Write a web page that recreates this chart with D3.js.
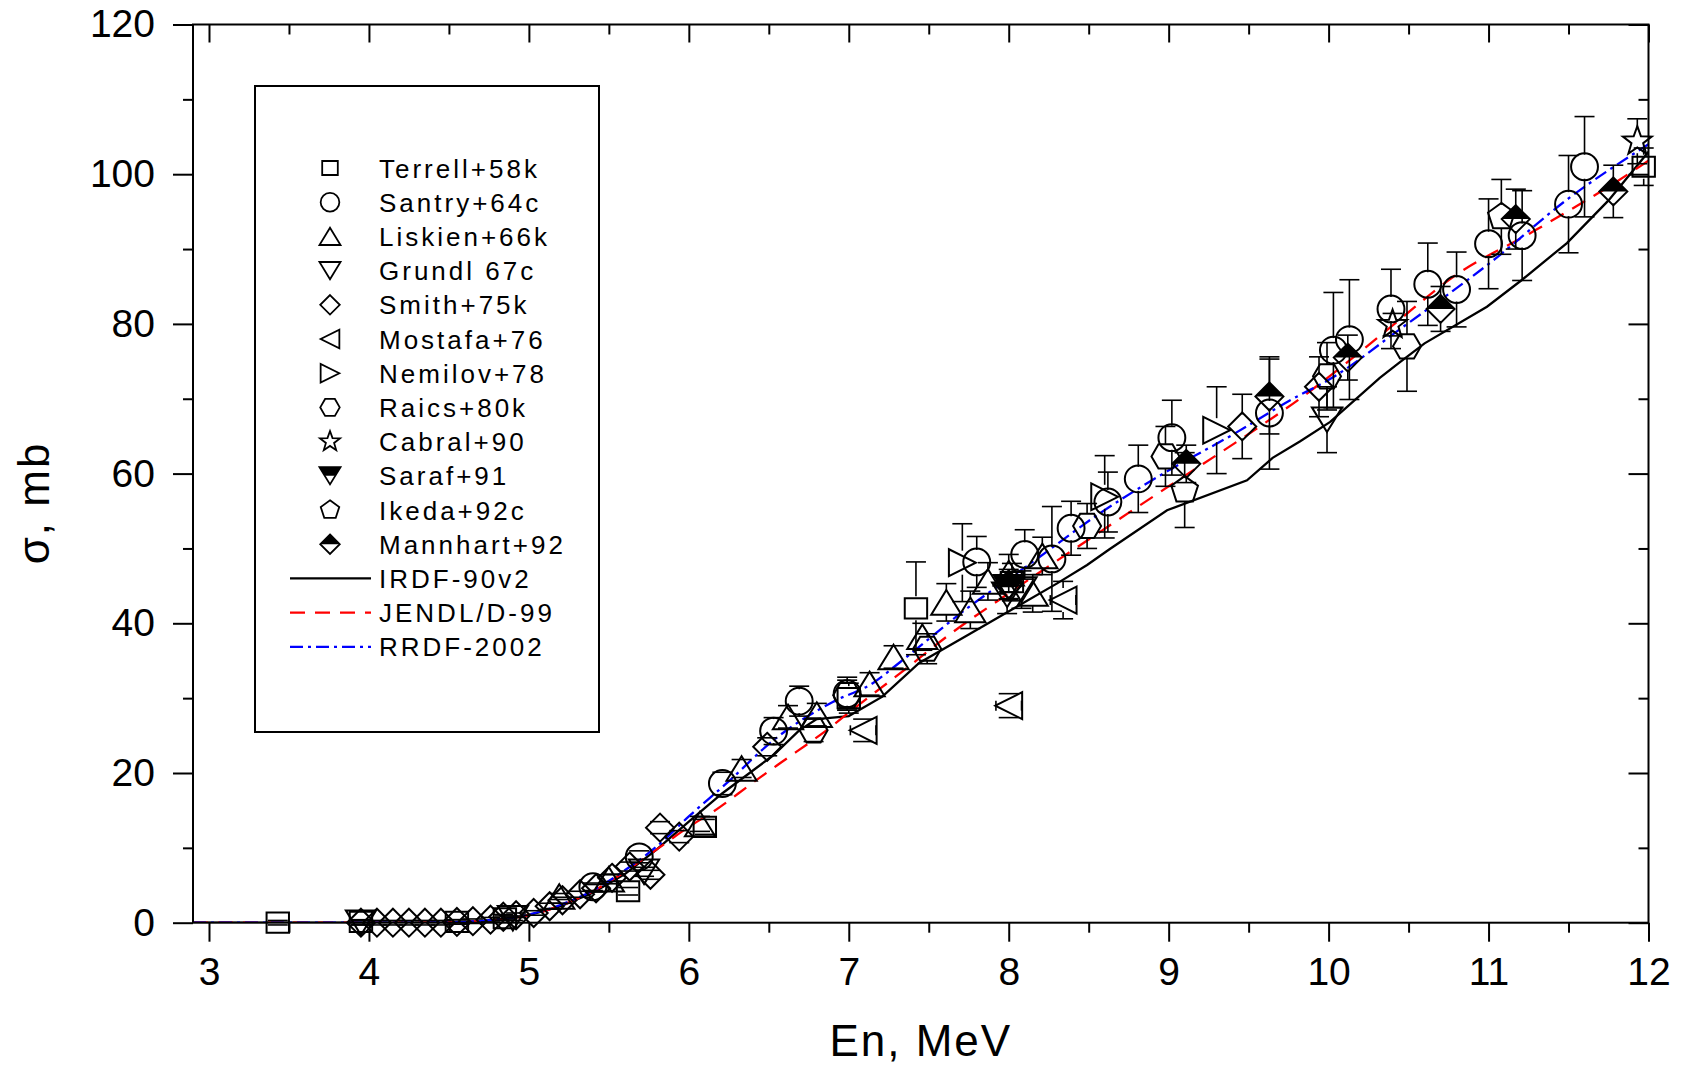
<!DOCTYPE html>
<html>
<head>
<meta charset="utf-8">
<script src="https://cdn.jsdelivr.net/npm/d3@7"></script>
<style>
  body { margin: 0; background: #fff; }
  text { font-family: "Liberation Sans", Arial, sans-serif; fill: #000; }
</style>
</head>
<body>
<div id="chart"></div>
<script>
// data: [En (MeV), sigma (mb), error (mb)]
const terrell = [[3.43,0,0.3],[3.95,0.1,0.3],[4.55,0.1,0.3],[4.85,0.6,0.3],[5.62,4.2,0.5],[6.1,12.8,1],[7.0,30.0,2],[7.42,42.0,6.2],[8.02,45.5,2.5],[11.97,101,2.5]];
const santry = [[5.4,4.8,0.5],[5.69,8.8,0.8],[6.21,18.6,1.5],[6.53,25.6,1.8],[6.69,29.6,2.0],[6.99,30.6,2.2],[7.8,48.2,3.4],[8.1,49.2,3.3],[8.27,48.6,7],[8.39,52.7,3.6],[8.62,56.2,4],[8.81,59.3,4.5],[9.02,64.8,5],[9.63,68.1,7.5],[10.03,76.5,7.7],[10.13,77.9,8],[10.39,82.0,5.3],[10.62,85.3,5.5],[10.8,84.6,5],[11.0,90.7,6],[11.21,91.8,6],[11.5,96.0,6.5],[11.6,101.0,6.7]];
const liskien = [[5.19,3.5,0.4],[5.5,5.8,0.6],[6.07,13.2,1],[6.33,20.6,1.2],[6.62,27.5,1.5],[6.8,27.8,1.5],[7.13,31.9,1.5],[7.28,35.5,1.5],[7.46,38.2,1.8],[7.61,42.8,2.5],[7.76,41.8,2.5],[7.87,45.6,2.5],[8.0,46.7,2.5],[8.15,44.0,2.5],[8.21,49.0,2.5]];
const grundl = [[3.95,0,0.3],[4.9,0.6,0.3],[5.72,6.8,0.6],[7.99,43.8,2.5],[8.08,44.5,2.5],[9.99,67.2,4.4]];
const smith = [[3.95,0,0.3],[4.05,0,0.3],[4.15,0,0.3],[4.25,0,0.3],[4.35,0,0.3],[4.45,0,0.3],[4.55,0.1,0.3],[4.65,0.2,0.3],[4.76,0.4,0.3],[4.84,0.8,0.3],[4.92,1.0,0.3],[5.03,1.3,0.3],[5.13,2.2,0.4],[5.21,3.0,0.4],[5.32,3.8,0.4],[5.42,4.6,0.5],[5.52,6.0,0.5],[5.63,7.5,0.6],[5.76,6.4,0.6],[5.82,12.7,0.8],[5.94,11.5,0.8],[6.49,23.5,1.2],[9.46,66.3,4.3],[9.94,71.6,4]];
const mostafa = [[7.09,25.7,1.5],[8.0,29.0,1.6],[8.34,43.1,2.5]];
const nemilov = [[7.71,48.1,5.2],[8.6,56.9,5.5],[9.3,65.8,5.8]];
const raics = [[6.78,25.7,1.5],[6.99,30.4,2],[7.49,36.6,2],[8.49,53.0,3],[8.98,62.3,4],[9.99,73.0,4.5],[10.49,77.0,6]];
const cabral = [[10.4,79.9,1.5],[11.93,104.4,3]];
const saraf = [[8.0,44.8,1.5]];
const ikeda = [[9.1,57.8,5],[11.08,94.3,5]];
const mannhart = [[8.0,45.2,2],[9.11,61.3,2.5],[9.63,70.3,5],[10.12,75.5,3],[10.7,82.0,3],[11.17,94.0,4],[11.78,97.7,3.5]];
const mostafaXerr = 0.08;

// evaluated curves: [En, sigma]
const irdf = [[2.9,0],[4.0,0],[4.5,0.05],[4.7,0.2],[4.9,0.6],[5.0,1.0],[5.2,2.2],[5.4,4.0],[5.6,6.5],[5.8,9.8],[6.0,13.5],[6.21,17.3],[6.53,22.4],[6.69,25.7],[6.8,27.2],[6.9,27.4],[7.0,27.6],[7.21,30.2],[7.44,34.7],[7.75,38.5],[8.05,42.2],[8.3,45.3],[8.49,47.8],[8.63,49.9],[8.99,55.1],[9.49,59.1],[9.65,62.1],[9.82,64.3],[10.01,66.9],[10.32,72.8],[10.44,74.8],[10.6,77.4],[10.99,82.3],[11.21,85.9],[11.49,90.8],[11.75,96.5],[12,103]];
const jendl = [[2.9,0],[4.0,0],[4.5,0.05],[4.7,0.2],[4.9,0.6],[5.0,1.0],[5.2,2.3],[5.4,4.2],[5.6,6.8],[5.8,9.8],[6.0,12.8],[6.15,14.8],[6.4,18.7],[6.57,21.3],[6.86,25.7],[7.05,28.9],[7.32,33.3],[7.63,38.5],[8.0,44.0],[8.5,51.2],[9.0,58.3],[9.5,65.3],[9.82,70.0],[10.24,77.0],[10.44,80.5],[10.76,86],[11.3,92.6],[11.8,99.0],[12,101.8]];
const rrdf = [[2.9,0],[4.0,0],[4.5,0.05],[4.7,0.25],[4.9,0.7],[5.0,1.1],[5.2,2.4],[5.4,4.3],[5.6,7.0],[5.8,10.2],[6.0,14.2],[6.24,18.7],[6.53,24.4],[6.9,29.5],[7.15,32],[7.32,34.8],[7.74,42],[8.15,48.2],[8.57,54.7],[8.99,60.3],[9.4,65.2],[9.76,69.8],[10.03,72.9],[10.44,79.2],[11.03,88.5],[11.49,96.6],[12,104]];

const xTicks = [3,4,5,6,7,8,9,10,11,12];
const yTicks = [0,20,40,60,80,100,120];

const series = [
  {name: "Terrell+58k", shape: "square", data: terrell},
  {name: "Santry+64c", shape: "circle", data: santry},
  {name: "Liskien+66k", shape: "up", data: liskien},
  {name: "Grundl 67c", shape: "down", data: grundl},
  {name: "Smith+75k", shape: "diamond", data: smith},
  {name: "Mostafa+76", shape: "left", data: mostafa, xerr: mostafaXerr},
  {name: "Nemilov+78", shape: "right", data: nemilov},
  {name: "Raics+80k", shape: "hexagon", data: raics},
  {name: "Cabral+90", shape: "star", data: cabral},
  {name: "Saraf+91", shape: "downhalf", data: saraf},
  {name: "Ikeda+92c", shape: "pentagon", data: ikeda},
  {name: "Mannhart+92", shape: "diamondhalf", data: mannhart}
];
const curves = [
  {name: "IRDF-90v2", data: irdf, color: "#000", dash: null, curve: d3.curveLinear},
  {name: "JENDL/D-99", data: jendl, color: "#ff0000", dash: "15,10", curve: d3.curveMonotoneX},
  {name: "RRDF-2002", data: rrdf, color: "#0000ff", dash: "13,5,3,5", curve: d3.curveMonotoneX}
];

// setting canvas
const width = 1682, height = 1069;
const plotL = 193, plotR = 1648.5, plotT = 24.5, plotB = 922.7;

const x = d3.scaleLinear().domain([2.9, 12]).range([plotL, plotR]);
const y = d3.scaleLinear().domain([0, 120]).range([plotB, plotT]);

const svg = d3.select("#chart").append("svg")
  .attr("width", width).attr("height", height);

// symbol outlines
const poly = pts => "M" + pts.map(p => p[0].toFixed(2) + "," + p[1].toFixed(2)).join("L") + "Z";
const ngon = (n, r, a0) => d3.range(n).map(k => {
  const a = a0 + k * 2 * Math.PI / n;
  return [r * Math.cos(a), r * Math.sin(a)];
});
const shapePath = (shape, s) => {
  switch (shape) {
    case "square": return poly([[-10*s,-9*s],[10*s,-9*s],[10*s,9*s],[-10*s,9*s]]);
    case "circle": return d3.arc()({innerRadius: 0, outerRadius: 12*s, startAngle: 0, endAngle: 2*Math.PI});
    case "up": return poly([[0,-11*s],[13.5*s,11*s],[-13.5*s,11*s]]);
    case "down": case "downhalf": return poly([[0,11*s],[13.5*s,-11*s],[-13.5*s,-11*s]]);
    case "diamond": case "diamondhalf": return poly([[0,-12.5*s],[12.5*s,0],[0,12.5*s],[-12.5*s,0]]);
    case "left": return poly([[-12*s,0],[12*s,-12*s],[12*s,12*s]]);
    case "right": return poly([[12*s,0],[-12*s,-12*s],[-12*s,12*s]]);
    case "hexagon": return poly(ngon(6, 12.5*s, 0));
    case "pentagon": return poly(ngon(5, 12.5*s, -Math.PI/2));
    case "star": return poly(d3.range(10).map(k => {
      const r = (k % 2 ? 5.5 : 13.5) * s, a = -Math.PI/2 + k * Math.PI / 5;
      return [r * Math.cos(a), r * Math.sin(a)];
    }));
  }
};
const halfPath = (shape, s) => {
  if (shape === "downhalf") return poly([[-13.5*s,-11*s],[13.5*s,-11*s],[6.75*s,0],[-6.75*s,0]]);
  if (shape === "diamondhalf") return poly([[-12.5*s,0],[0,-12.5*s],[12.5*s,0]]);
  return null;
};

const drawMarker = (g, shape, s, sw) => {
  const h = halfPath(shape, s);
  if (h) g.append("path").attr("d", h).attr("fill", "#000");
  g.append("path").attr("d", shapePath(shape, s))
    .attr("fill", "none").attr("stroke", "#000").attr("stroke-width", sw);
};

// clip region for curves
svg.append("clipPath").attr("id", "plotClip")
  .append("rect").attr("x", plotL).attr("y", plotT).attr("width", plotR - plotL).attr("height", plotB - plotT);

// curves
curves.forEach(c => {
  const line = d3.line().x(d => x(d[0])).y(d => y(d[1])).curve(c.curve);
  svg.append("path")
    .datum(c.data)
    .attr("clip-path", "url(#plotClip)")
    .attr("d", line)
    .attr("fill", "none")
    .attr("stroke", c.color)
    .attr("stroke-width", 2.3)
    .attr("stroke-dasharray", c.dash);
});

// error bars + markers
const markScale = 1.12;
const gap = 12, cap = 10;
series.forEach(sr => {
  const g = svg.append("g").attr("class", "series");
  sr.data.forEach(d => {
    const cx = x(d[0]), cy = y(d[1]);
    const yt = y(d[1] + d[2]), yb = y(d[1] - d[2]);
    const eb = g.append("g").attr("stroke", "#000").attr("stroke-width", 1.6);
    if (d[2] > 0) {
      if (cy - yt > gap) {
        eb.append("line").attr("x1", cx).attr("x2", cx).attr("y1", yt).attr("y2", cy - gap);
        eb.append("line").attr("x1", cx).attr("x2", cx).attr("y1", cy + gap).attr("y2", yb);
      }
      eb.append("line").attr("x1", cx - cap).attr("x2", cx + cap).attr("y1", yt).attr("y2", yt);
      eb.append("line").attr("x1", cx - cap).attr("x2", cx + cap).attr("y1", yb).attr("y2", yb);
    }
    if (sr.xerr) {
      const xl = x(d[0] - sr.xerr), xr = x(d[0] + sr.xerr);
      eb.append("line").attr("x1", xl).attr("x2", cx - 13).attr("y1", cy).attr("y2", cy);
      eb.append("line").attr("x1", cx + 13).attr("x2", xr).attr("y1", cy).attr("y2", cy);
      eb.append("line").attr("x1", xl).attr("x2", xl).attr("y1", cy - 5).attr("y2", cy + 5);
      eb.append("line").attr("x1", xr).attr("x2", xr).attr("y1", cy - 5).attr("y2", cy + 5);
    }
    const m = g.append("g").attr("transform", "translate(" + cx + "," + cy + ")");
    drawMarker(m, sr.shape, markScale, 2);
  });
});

// axes
const fontSize = 39;
const styleAxis = g => {
  g.select(".domain").remove();
  g.selectAll(".tick line").attr("stroke", "#000").attr("stroke-width", 2);
  g.selectAll("text").style("font-size", fontSize + "px")
    .style("font-family", '"Liberation Sans", Arial, sans-serif').attr("fill", "#000");
};
const xMinor = d3.range(3.5, 12, 1);
const yMinor = d3.range(10, 120, 20);

svg.append("g").attr("transform", "translate(0," + plotB + ")")
  .call(d3.axisBottom(x).tickValues(xTicks).tickSize(19).tickPadding(16).tickFormat(d3.format("d"))).call(styleAxis);
svg.append("g").attr("transform", "translate(0," + plotB + ")")
  .call(d3.axisBottom(x).tickValues(xMinor).tickSize(10).tickFormat("")).call(styleAxis);
svg.append("g").attr("transform", "translate(0," + plotT + ")")
  .call(d3.axisTop(x).tickValues(xTicks).tickSize(-18).tickFormat("")).call(styleAxis);
svg.append("g").attr("transform", "translate(0," + plotT + ")")
  .call(d3.axisTop(x).tickValues(xMinor).tickSize(-10).tickFormat("")).call(styleAxis);
svg.append("g").attr("transform", "translate(" + plotL + ",0)")
  .call(d3.axisLeft(y).tickValues(yTicks).tickSize(20).tickPadding(18).tickFormat(d3.format("d"))).call(styleAxis);
svg.append("g").attr("transform", "translate(" + plotL + ",0)")
  .call(d3.axisLeft(y).tickValues(yMinor).tickSize(10).tickFormat("")).call(styleAxis);
svg.append("g").attr("transform", "translate(" + plotR + ",0)")
  .call(d3.axisRight(y).tickValues(yTicks).tickSize(-20).tickFormat("")).call(styleAxis);
svg.append("g").attr("transform", "translate(" + plotR + ",0)")
  .call(d3.axisRight(y).tickValues(yMinor).tickSize(-10).tickFormat("")).call(styleAxis);

// frame
svg.append("rect")
  .attr("x", plotL).attr("y", plotT).attr("width", plotR - plotL).attr("height", plotB - plotT)
  .attr("fill", "none").attr("stroke", "#000").attr("stroke-width", 2);

// axis titles
svg.append("text")
  .attr("x", (plotL + plotR) / 2).attr("y", 1056)
  .attr("text-anchor", "middle")
  .style("font-size", "44px").style("letter-spacing", "2px")
  .text("En, MeV");
svg.append("text")
  .attr("transform", "translate(49,503) rotate(-90)")
  .attr("text-anchor", "middle")
  .style("font-size", "44px").style("letter-spacing", "2px")
  .text("σ, mb");

// legend
const legend = svg.append("g");
legend.append("rect")
  .attr("x", 255).attr("y", 86).attr("width", 344).attr("height", 646)
  .attr("fill", "#fff").attr("stroke", "#000").attr("stroke-width", 2);
const rowY = i => 168 + i * 34.2;
series.forEach((sr, i) => {
  const m = legend.append("g").attr("transform", "translate(330," + rowY(i) + ")");
  drawMarker(m, sr.shape, 0.78, 1.8);
  legend.append("text")
    .attr("x", 379).attr("y", rowY(i)).attr("dy", 9.5)
    .style("font-size", "26px").style("letter-spacing", "3px")
    .text(sr.name);
});
curves.forEach((c, j) => {
  const i = series.length + j;
  legend.append("line")
    .attr("x1", 290).attr("x2", 371).attr("y1", rowY(i)).attr("y2", rowY(i))
    .attr("stroke", c.color).attr("stroke-width", 2.3).attr("stroke-dasharray", c.dash);
  legend.append("text")
    .attr("x", 379).attr("y", rowY(i)).attr("dy", 9.5)
    .style("font-size", "26px").style("letter-spacing", "3px")
    .text(c.name);
});
</script>
</body>
</html>
